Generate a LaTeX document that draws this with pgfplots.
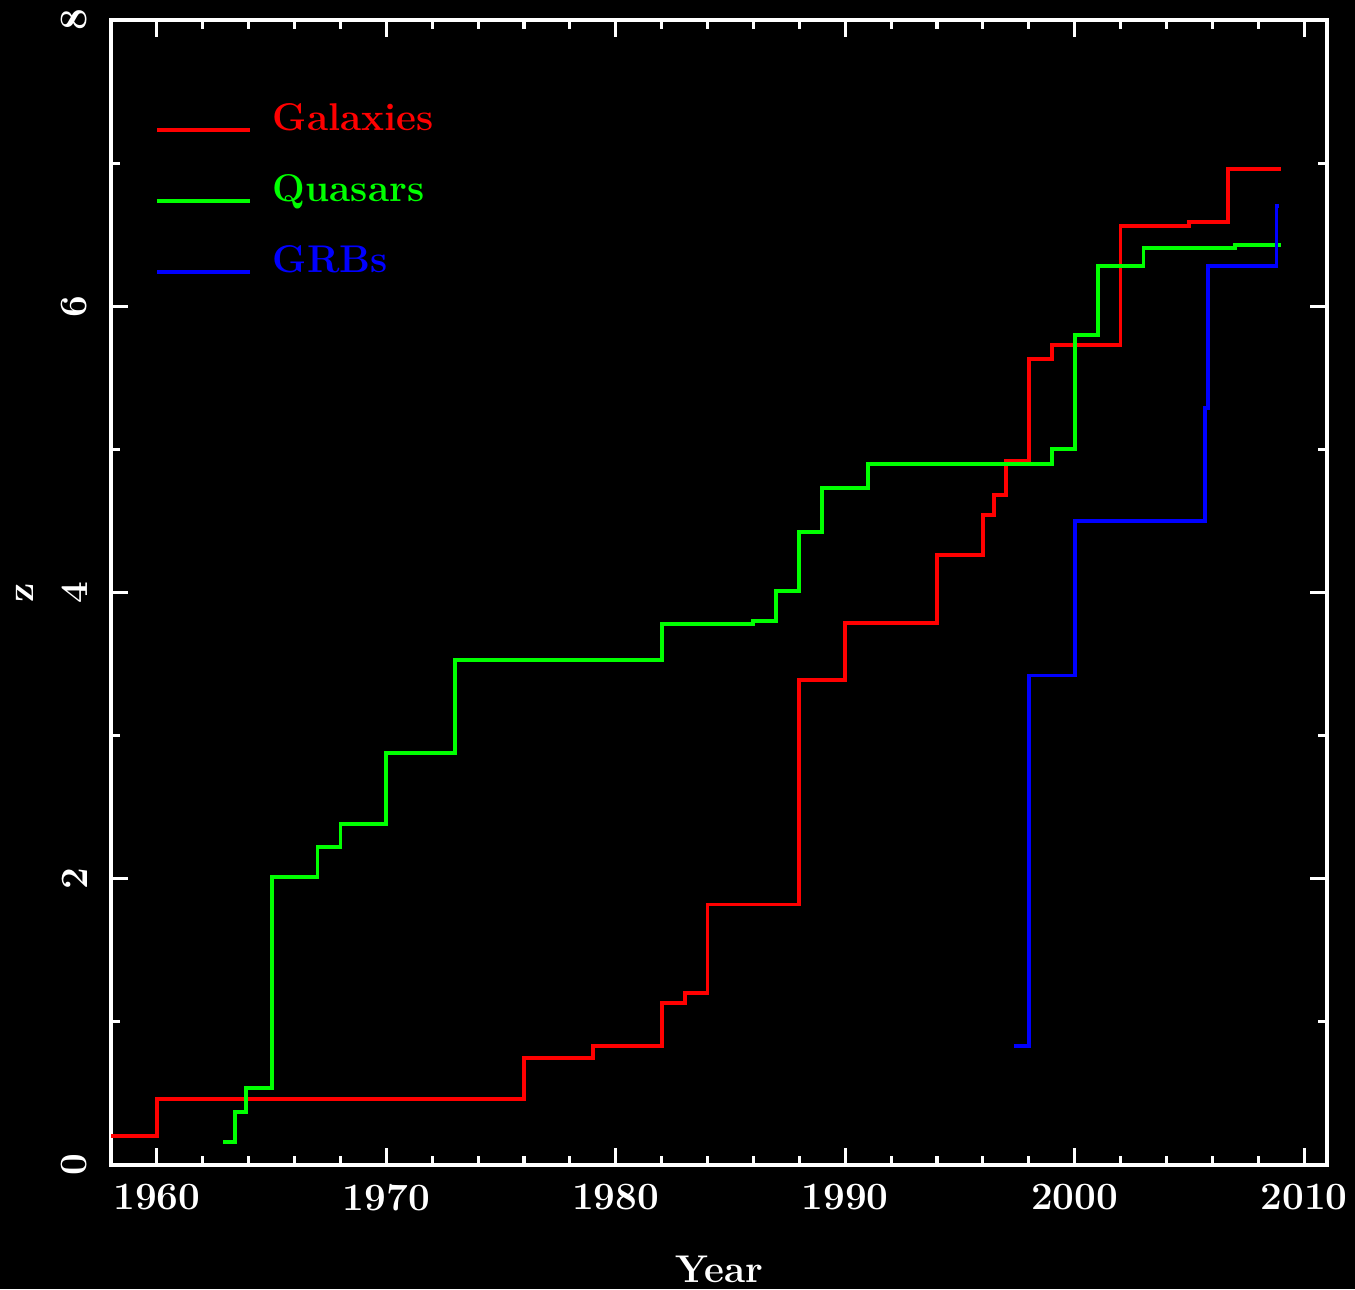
\documentclass[border=0pt]{standalone}
\usepackage{pgfplots}
\pgfplotsset{compat=1.18}

\begin{document}
\begin{tikzpicture}
  % black page behind everything, also the page size
  \path[use as bounding box, fill=black] (-1.11cm,-1.24cm) rectangle (12.44cm,11.65cm);
  \begin{axis}[
      at={(0,0)}, anchor=south west,
      scale only axis, width=12.16cm, height=11.45cm,
      xmin=1958, xmax=2011,
      ymin=0, ymax=8,
      xtick={1960,1970,...,2010}, minor x tick num=4,
      ytick={0,2,...,8}, minor y tick num=1,
      tick align=inside,
      major tick length=1.7mm, minor tick length=0.9mm,
      axis line style={white, line width=1.1pt},
      major tick style={white, line width=0.9pt},
      minor tick style={white, line width=0.9pt},
      /pgf/number format/assume math mode=true,
      /pgf/number format/1000 sep={},
      tick label style={white, font=\fontsize{11}{13}\selectfont\bfseries},
      xticklabel style={yshift=-0.7mm},
      yticklabel style={rotate=90, anchor=south, inner xsep=0pt, inner ysep=2.3mm},
      label style={white, font=\fontsize{11}{13}\selectfont\bfseries},
      xlabel={Year},
      xlabel style={at={(rel axis cs:0.5,-0.1022)}, anchor=base, inner sep=0pt},
      ylabel={z},
      ylabel style={at={(rel axis cs:-0.0707,0.5)}, anchor=center, rotate=0},
      every axis plot/.append style={line width=1.1pt, const plot},
      legend image code/.code={\draw[#1] (0cm,-0.1cm) -- (0.93cm,-0.1cm);},
      legend cell align=left,
      legend style={at={(rel axis cs:0.027,0.935)}, anchor=north west,
        draw=none, fill=none, column sep=2.1mm, row sep=3.6mm,
        nodes={inner sep=0pt, text height=2.8mm, text depth=0.7mm},
        font=\fontsize{11}{13}\selectfont\bfseries},
    ]
    % Galaxies
    \addplot[red] coordinates {
      (1958,0.20)(1960,0.46)(1976,0.75)(1979,0.83)(1982,1.13)(1983,1.20)
      (1984,1.82)(1988,3.39)(1990,3.79)(1994,4.26)(1996,4.54)(1996.5,4.68)
      (1997,4.92)(1998,5.63)(1999,5.73)(2002,6.56)(2005,6.59)(2006.7,6.96)
      (2009,6.96)
    };
    \addlegendentry{\textcolor{red}{Galaxies}}

    % Quasars
    \addplot[green] coordinates {
      (1962.9,0.16)(1963.4,0.37)(1963.9,0.54)(1965,2.01)(1967,2.22)(1968,2.38)
      (1970,2.88)(1973,3.53)(1982,3.78)(1986,3.80)(1987,4.01)(1988,4.42)
      (1989,4.73)(1991,4.90)(1999,5.00)(2000,5.80)(2001,6.28)(2003,6.41)
      (2007,6.43)(2009,6.43)
    };
    \addlegendentry{\textcolor{green}{Quasars}}

    % GRBs
    \addplot[blue] coordinates {
      (1997.35,0.83)(1998,3.42)(2000,4.50)(2005.7,5.29)(2005.8,6.28)
      (2008.8,6.70)(2008.9,6.70)
    };
    \addlegendentry{\textcolor{blue}{GRBs}}
  \end{axis}
\end{tikzpicture}
\end{document}
